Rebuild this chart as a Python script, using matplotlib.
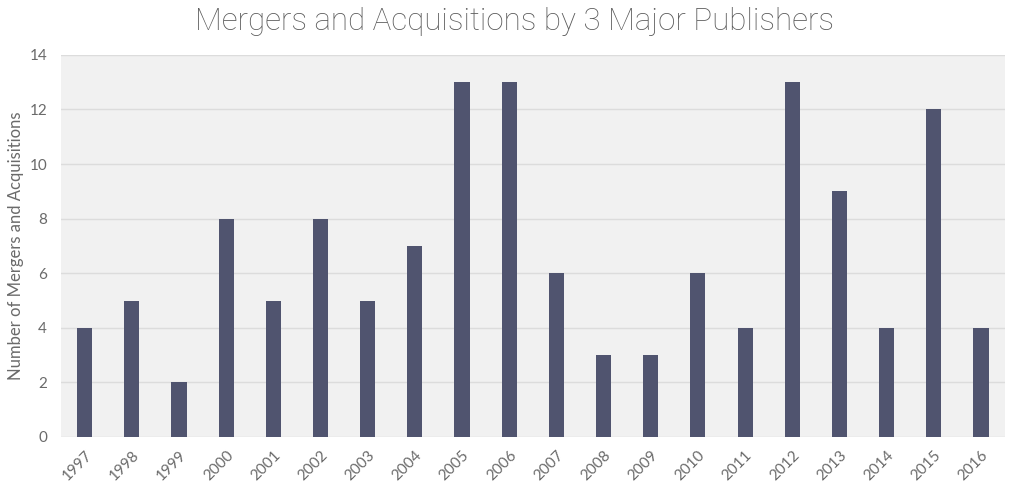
import matplotlib.pyplot as plt

years = ["1997", "1998", "1999", "2000", "2001", "2002", "2003", "2004", "2005", "2006",
         "2007", "2008", "2009", "2010", "2011", "2012", "2013", "2014", "2015", "2016"]
counts = [4, 5, 2, 8, 5, 8, 5, 7, 13, 13, 6, 3, 3, 6, 4, 13, 9, 4, 12, 4]

plt.rcParams['font.family'] = ['Lato', 'DejaVu Sans']

fig = plt.figure(figsize=(10.24, 4.94), dpi=100)
ax = fig.add_axes([0.0596, 0.1154, 0.9214, 0.7736])
ax.set_facecolor('#f1f1f1')

ax.bar(range(len(years)), counts, width=0.32, color='#50546f', zorder=3)

ax.set_xlim(-0.5, len(years) - 0.5)
ax.set_ylim(0, 14)
ax.set_yticks(range(0, 15, 2))
ax.set_xticks(range(len(years)))
ax.set_xticklabels(years, rotation=45, ha='right', rotation_mode='anchor')
ax.tick_params(axis='both', length=0, labelcolor='#6a6a6a', labelsize=11)
ax.tick_params(axis='x', pad=8)
ax.tick_params(axis='y', pad=10)
ax.yaxis.grid(True, color='#dcdcdc', linewidth=1, zorder=0)
ax.set_axisbelow(True)
for s in ax.spines.values():
    s.set_visible(False)

ax.set_ylabel('Number of Mergers and Acquisitions', color='#6a6a6a', fontsize=12, labelpad=4)
fig.suptitle('Mergers and Acquisitions by 3 Major Publishers', color='#5a5a5a',
             fontsize=22.5, family=['Roboto', 'DejaVu Sans'], fontweight='light',
             y=0.985, x=0.502)

fig.savefig('out.png', dpi=100)
